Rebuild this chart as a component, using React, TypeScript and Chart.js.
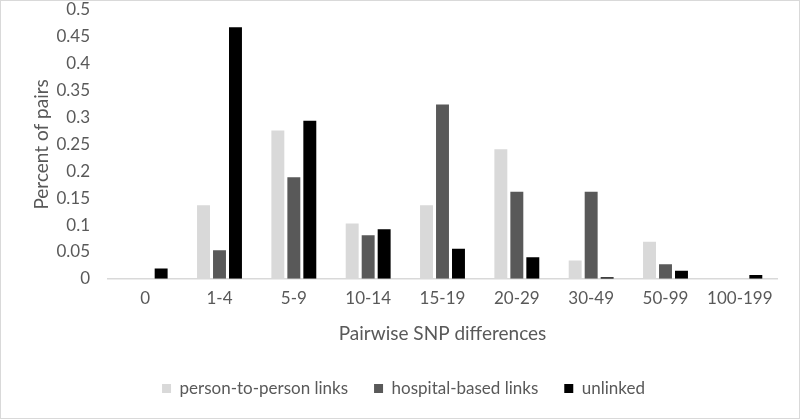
import React, { useEffect, useRef } from "react";
import { Chart, registerables } from "chart.js";

Chart.register(...registerables);

const categories = ["0", "1-4", "5-9", "10-14", "15-19", "20-29", "30-49", "50-99", "100-199"];
const personToPerson = [0, 0.137, 0.276, 0.103, 0.137, 0.241, 0.034, 0.069, 0];
const hospitalBased = [0, 0.053, 0.189, 0.081, 0.324, 0.162, 0.162, 0.027, 0];
const unlinked = [0.019, 0.468, 0.294, 0.092, 0.056, 0.040, 0.003, 0.015, 0.007];
const yTicks = [0, 0.05, 0.1, 0.15, 0.2, 0.25, 0.3, 0.35, 0.4, 0.45, 0.5];

const FONT = "Lato, 'Open Sans', sans-serif";

export default function App() {
  const ref = useRef<HTMLCanvasElement | null>(null);
  useEffect(() => {
    document.body.style.margin = "0";
    const canvas = ref.current;
    if (!canvas) return;
    const chart = new Chart(canvas, {
      type: "bar",
      data: {
        labels: categories,
        datasets: [
          { label: "person-to-person links", data: personToPerson, backgroundColor: "#d9d9d9" },
          { label: "hospital-based links", data: hospitalBased, backgroundColor: "#595959" },
          { label: "unlinked", data: unlinked, backgroundColor: "#000000" },
        ],
      },
      options: {
        animation: false,
        responsive: false,
        maintainAspectRatio: false,
        layout: { padding: { left: 29, right: 22, top: 9, bottom: 11 } },
        datasets: { bar: { categoryPercentage: 0.645, barPercentage: 0.81 } },
        plugins: {
          legend: {
            position: "bottom",
            labels: {
              boxWidth: 9,
              boxHeight: 9,
              padding: 26,
              color: "#595959",
              font: { family: FONT, size: 17 },
            },
          },
          tooltip: { enabled: false },
        },
        scales: {
          x: {
            grid: { display: false, drawTicks: false },
            border: { display: true, color: "#d9d9d9", width: 1.5 },
            ticks: { color: "#595959", font: { family: FONT, size: 17 }, padding: 10, maxRotation: 0 },
            title: {
              display: true,
              text: "Pairwise SNP differences",
              color: "#595959",
              font: { family: FONT, size: 19 },
              padding: { top: 3, bottom: 9 },
            },
          },
          y: {
            min: 0,
            max: 0.5,
            afterBuildTicks: (axis: any) => {
              axis.ticks = yTicks.map((v) => ({ value: v }));
            },
            afterFit: (axis: any) => {
              axis.width = 78;
              axis.paddingTop = 0;
            },
            grid: { display: false, drawTicks: false },
            border: { display: false },
            ticks: {
              color: "#595959",
              font: { family: FONT, size: 17 },
              padding: 18,
              callback: (v: any) => String(Number(v)),
            },
            title: {
              display: true,
              text: "Percent of pairs",
              color: "#595959",
              font: { family: FONT, size: 19 },
              padding: { top: 0, bottom: 0 },
            },
          },
        },
      },
    });
    return () => chart.destroy();
  }, []);
  return (
    <div style={{ width: 800, height: 419, boxSizing: "border-box", border: "1px solid #d9d9d9", background: "#fff" }}>
      <canvas ref={ref} width={798} height={417} style={{ display: "block" }} />
    </div>
  );
}
